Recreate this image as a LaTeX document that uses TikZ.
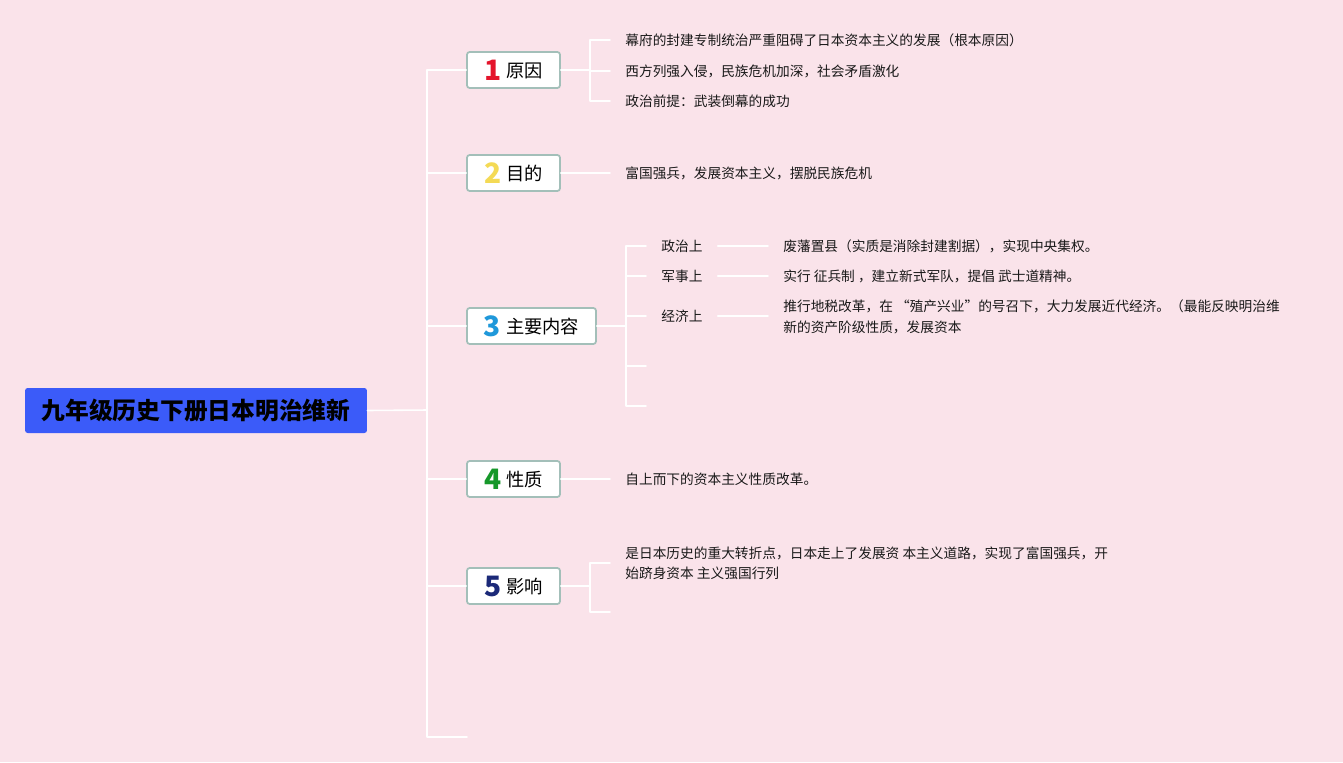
\documentclass[tikz,border=0pt]{standalone}
\usepackage{fontspec}
\setmainfont{Noto Sans CJK SC}
\usetikzlibrary{positioning,calc}

\definecolor{bgpink}{HTML}{FAE3EA}
\definecolor{rootblue}{HTML}{3B5BF9}
\definecolor{boxedge}{HTML}{A3BFB9}
\definecolor{numred}{HTML}{E4142B}
\definecolor{numyellow}{HTML}{F4DA55}
\definecolor{numblue}{HTML}{1F98DA}
\definecolor{numgreen}{HTML}{16982A}
\definecolor{numnavy}{HTML}{1B2978}

\newcommand\bnum[2]{\raisebox{-1.6pt}{\color{#1}\fontsize{16}{16}\selectfont\bfseries #2}\hspace{3pt}}

\begin{document}
\begin{tikzpicture}[x=0.02cm, y=-0.02cm, line cap=round, line join=round,
  link/.style={draw=white, line width=0.9pt},
  rootbox/.style={fill=rootblue, rounded corners=1.5pt, minimum width=6.84cm, minimum height=0.9cm,
    font=\fontsize{13.5}{14}\selectfont\bfseries, text=black},
  topic/.style={draw=boxedge, line width=1pt, fill=white, rounded corners=1.5pt, minimum height=0.72cm,
    inner sep=0pt, font=\fontsize{10.4}{11}\selectfont},
  leaf/.style={anchor=west, inner xsep=0.3cm, inner ysep=1pt, align=left,
    font=\fontsize{7.8}{11.6}\selectfont, text=black!90}]

% background and page size
\fill[bgpink] (0,0) rectangle (1343,762);

% root and trunk
\node[rootbox] (root) at (196,410.5) {九年级历史下册日本明治维新};
\coordinate (trunk) at (427,410);
\coordinate (ttop) at (427,70);
\coordinate (tbot) at (427,737);
\coordinate (tend) at (467,737);
\draw[link] (root.east) -- (trunk);
\draw[link] (ttop) -- (tbot) -- (tend);

% main topics
\node[topic, minimum width=1.86cm] (k1) at (513.5,70) {\bnum{numred}{1}原因};
\node[topic, minimum width=1.86cm] (k2) at (513.5,173) {\bnum{numyellow}{2}目的};
\node[topic, minimum width=2.58cm] (k3) at (531.5,326) {\bnum{numblue}{3}主要内容};
\node[topic, minimum width=1.86cm] (k4) at (513.5,479) {\bnum{numgreen}{4}性质};
\node[topic, minimum width=1.86cm] (k5) at (513.5,586) {\bnum{numnavy}{5}影响};
\foreach \k in {k1,k2,k3,k4,k5}
  \draw[link] (trunk |- \k) -- (\k.west);

% 1 原因
\node[leaf] (c11) at (610,40) {幕府的封建专制统治严重阻碍了日本资本主义的发展（根本原因）};
\node[leaf] (c12) at (610,71) {西方列强入侵，民族危机加深，社会矛盾激化};
\node[leaf] (c13) at (610,101) {政治前提：武装倒幕的成功};
\coordinate (j1) at (590,70);
\draw[link] (k1.east) -- (j1);
\draw[link] (c11.west) -- (j1 |- c11) -- (j1 |- c13) -- (c13.west);
\draw[link] (j1 |- c12) -- (c12.west);

% 2 目的
\node[leaf] (c21) at (610,173) {富国强兵，发展资本主义，摆脱民族危机};
\draw[link] (k2.east) -- (c21.west);

% 3 主要内容
\node[leaf] (s1) at (646,246) {政治上};
\node[leaf] (s2) at (646,276) {军事上};
\node[leaf] (s3) at (646,316) {经济上};
\coordinate (e1) at (646,366);
\coordinate (e2) at (646,406);
\coordinate (j3) at (626,326);
\draw[link] (k3.east) -- (j3);
\draw[link] (s1.west) -- (j3 |- s1) -- (j3 |- e2) -- (e2);
\foreach \s in {s2,s3}
  \draw[link] (j3 |- \s) -- (\s.west);
\draw[link] (j3 |- e1) -- (e1);

\node[leaf] (t1) at (768,246) {废藩置县（实质是消除封建割据），实现中央集权。};
\node[leaf] (t2) at (768,276) {实行 征兵制 ，建立新式军队，提倡 武士道精神。};
\node[leaf] (t3) at (768,317) {推行地税改革，在 “殖产兴业”的号召下，大力发展近代经济。（最能反映明治维\\新的资产阶级性质，发展资本};
\draw[link] (s1.east) -- (t1.west);
\draw[link] (s2.east) -- (t2.west);
\draw[link] (s3.east) -- (t3.west |- s3);

% 4 性质
\node[leaf] (c41) at (610,479) {自上而下的资本主义性质改革。};
\draw[link] (k4.east) -- (c41.west);

% 5 影响
\node[leaf] (c51) at (610,563) {是日本历史的重大转折点，日本走上了发展资 本主义道路，实现了富国强兵，开\\始跻身资本 主义强国行列};
\coordinate (j5) at (590,586);
\coordinate (e5) at (610,612);
\draw[link] (k5.east) -- (j5);
\draw[link] (c51.west) -- (j5 |- c51) -- (j5 |- e5) -- (e5);

\end{tikzpicture}
\end{document}
